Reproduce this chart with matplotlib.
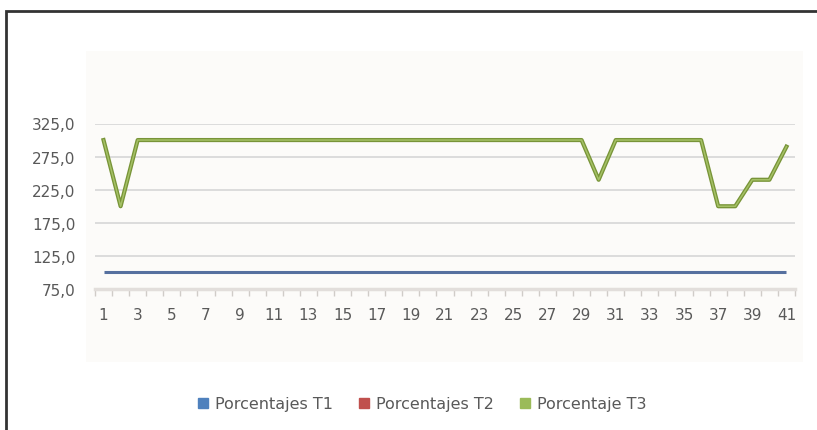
import matplotlib.pyplot as plt
import numpy as np
from matplotlib.lines import Line2D
from matplotlib.patches import Rectangle
from matplotlib.ticker import FuncFormatter

# Sessions 1..41 and the three percentage series
sessions = list(range(1, 42))
t1_values = [100.0] * 41
t2_values = [np.nan] * 41  # no visible values inside the axis range
t3_values = [
    300, 200, 300, 300, 300, 300, 300, 300, 300, 300,
    300, 300, 300, 300, 300, 300, 300, 300, 300, 300,
    300, 300, 300, 300, 300, 300, 300, 300, 300, 240,
    300, 300, 300, 300, 300, 300, 200, 200, 240, 240,
    290,
]
series_labels = ["Porcentajes T1", "Porcentajes T2", "Porcentaje T3"]
y_ticks = [75, 125, 175, 225, 275, 325]

BLUE = "#4f81bd"
RED = "#c0504d"
GREEN = "#9bbb59"
TEXT = "#595959"
GRID = "#dcdcdc"

W, H = 817, 431
fig = plt.figure(figsize=(W / 100, H / 100), dpi=100)
fig.patch.set_facecolor("white")

# outer frame (only top and left edges fall inside the image)
fig.add_artist(Rectangle((6 / W, -0.2), 1.2, 1 - 12 / H + 0.2,
                         transform=fig.transFigure, fill=False,
                         edgecolor="#333333", linewidth=2))
# faint plot-area fill
fig.add_artist(Rectangle((86 / W, 1 - 363 / H), (803 - 86) / W, (363 - 52) / H,
                         transform=fig.transFigure, facecolor="#fcfbf9",
                         edgecolor="none", zorder=0))

ax = fig.add_axes([95 / W, 1 - 290 / H, 700 / W, (290 - 124.5) / H])
ax.set_facecolor("none")

x = np.array(sessions)
ax.plot(x, t1_values, color="#56709f", linewidth=2.2, solid_capstyle="butt", zorder=3)
ax.plot(x, t2_values, color=RED, linewidth=2.2, zorder=3)
ax.plot(x, t3_values, color="#789438", linewidth=3.0, solid_joinstyle="round", zorder=4)
ax.plot(x, t3_values, color="#a5c166", linewidth=1.1, solid_joinstyle="round", zorder=4)

ax.set_xlim(0.5, 41.5)
ax.set_ylim(75, 325)
ax.set_yticks(y_ticks)
ax.yaxis.set_major_formatter(FuncFormatter(lambda v, _: f"{v:.1f}".replace(".", ",")))
ax.grid(axis="y", color=GRID, linewidth=1.4)
ax.set_axisbelow(True)

ax.set_xticks(sessions[::2])
ax.set_xticks(np.arange(0.5, 42, 1.0), minor=True)
ax.tick_params(axis="x", which="major", length=0, pad=13, labelsize=11, labelcolor=TEXT)
ax.tick_params(axis="x", which="minor", length=5, width=1, color="#d0ccc8", direction="out")
ax.tick_params(axis="y", length=0, pad=14, labelsize=11, labelcolor=TEXT)

for side in ("top", "right", "left"):
    ax.spines[side].set_visible(False)
ax.spines["bottom"].set_color("#e2dedb")
ax.spines["bottom"].set_linewidth(2.5)

handles = [
    Line2D([], [], marker="s", linestyle="none", markersize=7,
           markerfacecolor=c, markeredgecolor=c)
    for c in (BLUE, RED, GREEN)
]
fig.legend(handles, series_labels, loc="center", bbox_to_anchor=(0.515, 1 - 405 / H),
           ncol=3, frameon=False, fontsize=11.5, labelcolor=TEXT,
           handletextpad=0.2, columnspacing=1.5, handlelength=1.0)

fig.savefig("out.png", dpi=100)
